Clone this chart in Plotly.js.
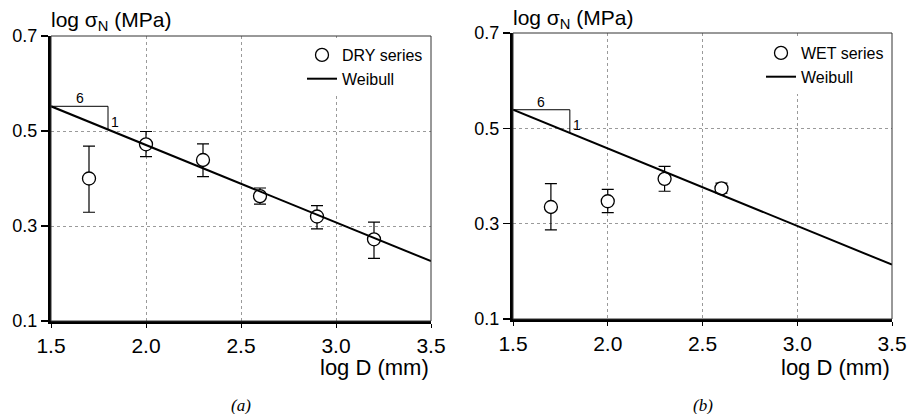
<!DOCTYPE html>
<html>
<head>
<meta charset="utf-8">
<script src="https://cdn.plot.ly/plotly-3.0.1.min.js"></script>
<style>
  html, body { margin: 0; padding: 0; background: #fff; }
  #chart { width: 923px; height: 414px; }
</style>
</head>
<body>
<div id="chart"></div>
<script>
// Size effect on nominal strength: DRY and WET series with Weibull fit
const dryX = [1.7, 2.0, 2.3, 2.6, 2.9, 3.2];
const dryY = [0.400, 0.472, 0.439, 0.363, 0.320, 0.272];
const dryErrUp = [0.068, 0.027, 0.034, 0.017, 0.023, 0.036];
const dryErrDown = [0.071, 0.026, 0.035, 0.017, 0.026, 0.040];

const wetX = [1.7, 2.0, 2.3, 2.6];
const wetY = [0.335, 0.347, 0.394, 0.374];
const wetErrUp = [0.049, 0.025, 0.026, 0.011];
const wetErrDown = [0.048, 0.024, 0.026, 0.010];

const weibullX = [1.5, 3.5];
const dryWeibullY = [0.552, 0.226];
const wetWeibullY = [0.539, 0.214];

const slopeRun = 0.3;       // horizontal leg of the 6:1 slope triangle
const xTicks = [1.5, 2.0, 2.5, 3.0, 3.5];
const yTicks = [0.1, 0.3, 0.5, 0.7];

// slope triangle anchored at the start of a Weibull line
function triangle(lx, ly) {
  const x0 = lx[0], y0 = ly[0];
  const slope = (ly[1] - ly[0]) / (lx[1] - lx[0]);
  const x1 = x0 + slopeRun;
  return { x: [x0, x1, x1], y: [y0, y0, y0 + slope * slopeRun] };
}

const markerStyle = { symbol: 'circle', size: 13, color: '#fff', line: { color: '#000', width: 1.3 } };
const errStyle = { color: '#000', thickness: 1.2, width: 6 };
const lineStyle = { color: '#000', width: 2 };

const triDry = triangle(weibullX, dryWeibullY);
const triWet = triangle(weibullX, wetWeibullY);

const traces = [
  { x: dryX, y: dryY, type: 'scatter', mode: 'markers', name: 'DRY series',
    marker: markerStyle, xaxis: 'x', yaxis: 'y', legend: 'legend',
    error_y: Object.assign({ type: 'data', symmetric: false, array: dryErrUp, arrayminus: dryErrDown }, errStyle) },
  { x: weibullX, y: dryWeibullY, type: 'scatter', mode: 'lines', name: 'Weibull',
    line: lineStyle, xaxis: 'x', yaxis: 'y', legend: 'legend' },
  { x: triDry.x, y: triDry.y, type: 'scatter', mode: 'lines', showlegend: false,
    line: { color: '#000', width: 1 }, xaxis: 'x', yaxis: 'y', hoverinfo: 'skip' },

  { x: wetX, y: wetY, type: 'scatter', mode: 'markers', name: 'WET series',
    marker: markerStyle, xaxis: 'x2', yaxis: 'y2', legend: 'legend2',
    error_y: Object.assign({ type: 'data', symmetric: false, array: wetErrUp, arrayminus: wetErrDown }, errStyle) },
  { x: weibullX, y: wetWeibullY, type: 'scatter', mode: 'lines', name: 'Weibull',
    line: lineStyle, xaxis: 'x2', yaxis: 'y2', legend: 'legend2' },
  { x: triWet.x, y: triWet.y, type: 'scatter', mode: 'lines', showlegend: false,
    line: { color: '#000', width: 1 }, xaxis: 'x2', yaxis: 'y2', hoverinfo: 'skip' }
];

const font = 'Liberation Sans, Arial, sans-serif';

function xAxis(domain, anchor) {
  return {
    domain: domain, anchor: anchor, range: [1.5, 3.5],
    tickvals: xTicks, tickformat: '.1f',
    ticks: 'outside', ticklen: 4, tickwidth: 1, tickcolor: '#000',
    tickfont: { family: font, size: 21, color: '#000' },
    showline: true, linewidth: 3, linecolor: '#000',
    showgrid: true, gridcolor: '#9a9a9a', griddash: 'dot', gridwidth: 1,
    zeroline: false, fixedrange: true
  };
}
function yAxis(domain, anchor) {
  return {
    domain: domain, anchor: anchor, range: [0.1, 0.7],
    tickvals: yTicks, tickformat: '.1f',
    ticks: 'outside', ticklen: 7, tickwidth: 1.5, tickcolor: '#000',
    tickfont: { family: font, size: 18, color: '#000' },
    showline: true, linewidth: 3, linecolor: '#000',
    showgrid: true, gridcolor: '#9a9a9a', griddash: 'dot', gridwidth: 1,
    zeroline: false, fixedrange: true
  };
}

function frame(xr, yr) {
  return { type: 'rect', xref: xr + ' domain', yref: yr + ' domain', x0: 0, x1: 1, y0: 0, y1: 1,
           line: { color: '#333', width: 1 }, layer: 'above' };
}

const titleFont = { family: font, size: 21, color: '#000' };
const xTitleFont = { family: font, size: 22, color: '#000' };
const smallFont = { family: font, size: 14, color: '#000' };
const capFont = { family: 'Liberation Serif, DejaVu Serif, serif', size: 17, color: '#000' };

const annotations = [
  { text: 'log σ<sub>N</sub> (MPa)', xref: 'paper', yref: 'paper', x: 49 / 923, y: 1 - 21 / 414,
    xanchor: 'left', yanchor: 'middle', showarrow: false, font: titleFont },
  { text: 'log σ<sub>N</sub> (MPa)', xref: 'paper', yref: 'paper', x: 511 / 923, y: 1 - 19 / 414,
    xanchor: 'left', yanchor: 'middle', showarrow: false, font: titleFont },
  { text: 'log D (mm)', xref: 'x domain', yref: 'paper', x: 1, y: 1 - 367 / 414,
    xanchor: 'right', yanchor: 'middle', showarrow: false, font: xTitleFont },
  { text: 'log D (mm)', xref: 'x2 domain', yref: 'paper', x: 1, y: 1 - 367 / 414,
    xanchor: 'right', yanchor: 'middle', showarrow: false, font: xTitleFont },
  { text: '<i>(a)</i>', xref: 'x domain', yref: 'paper', x: 0.5, y: 1 - 405 / 414,
    xanchor: 'center', yanchor: 'middle', showarrow: false, font: capFont },
  { text: '<i>(b)</i>', xref: 'x2 domain', yref: 'paper', x: 0.5, y: 1 - 405 / 414,
    xanchor: 'center', yanchor: 'middle', showarrow: false, font: capFont },
  // slope triangle labels
  { text: '6', xref: 'x', yref: 'y', x: weibullX[0] + slopeRun / 2, y: dryWeibullY[0],
    xanchor: 'center', yanchor: 'bottom', yshift: -2, showarrow: false, font: smallFont },
  { text: '1', xref: 'x', yref: 'y', x: weibullX[0] + slopeRun, y: (triDry.y[1] + triDry.y[2]) / 2,
    xanchor: 'left', yanchor: 'middle', xshift: 1, yshift: -4, showarrow: false, font: smallFont },
  { text: '6', xref: 'x2', yref: 'y2', x: weibullX[0] + slopeRun / 2, y: wetWeibullY[0],
    xanchor: 'center', yanchor: 'bottom', yshift: -2, showarrow: false, font: smallFont },
  { text: '1', xref: 'x2', yref: 'y2', x: weibullX[0] + slopeRun, y: (triWet.y[1] + triWet.y[2]) / 2,
    xanchor: 'left', yanchor: 'middle', xshift: 1, yshift: -4, showarrow: false, font: smallFont }
];

const legendBase = {
  bgcolor: '#fff', borderwidth: 0, font: { family: font, size: 16, color: '#000' },
  xanchor: 'right', yanchor: 'top', tracegroupgap: 0, itemwidth: 30
};

const layout = {
  width: 923, height: 414,
  margin: { l: 0, r: 0, t: 0, b: 0 },
  paper_bgcolor: '#fff', plot_bgcolor: '#fff',
  showlegend: true,
  xaxis: xAxis([51 / 923, 431 / 923], 'y'),
  yaxis: yAxis([1 - 321 / 414, 1 - 36 / 414], 'x'),
  xaxis2: xAxis([513 / 923, 892 / 923], 'y2'),
  yaxis2: yAxis([1 - 319 / 414, 1 - 33 / 414], 'x2'),
  legend: Object.assign({}, legendBase, { x: 428 / 923, y: 1 - 38 / 414 }),
  legend2: Object.assign({}, legendBase, { x: 889 / 923, y: 1 - 36 / 414 }),
  shapes: [frame('x', 'y'), frame('x2', 'y2')],
  annotations: annotations
};

Plotly.newPlot('chart', traces, layout, { displayModeBar: false, staticPlot: true });
</script>
</body>
</html>
